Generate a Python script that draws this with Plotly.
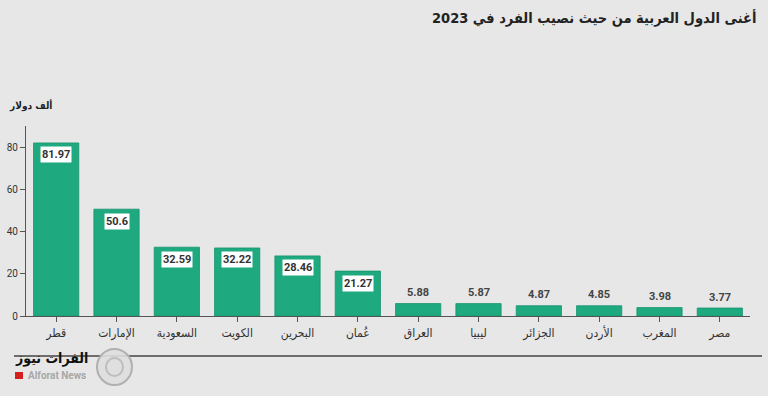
import plotly.graph_objects as go

countries = ["قطر", "الإمارات", "السعودية", "الكويت", "البحرين", "عُمان",
             "العراق", "ليبيا", "الجزائر", "الأردن", "المغرب", "مصر"]
values = [81.97, 50.6, 32.59, 32.22, 28.46, 21.27, 5.88, 5.87, 4.87, 4.85, 3.98, 3.77]
value_labels = ["81.97", "50.6", "32.59", "32.22", "28.46", "21.27",
                "5.88", "5.87", "4.87", "4.85", "3.98", "3.77"]
y_ticks = [0, 20, 40, 60, 80]

BG = "#e7e7e7"
BAR = "#1ea97f"
TXT = "#333333"
LAT = "Roboto, Liberation Sans, sans-serif"
AR = "DejaVu Sans Condensed, DejaVu Sans, sans-serif"

PW, PH = 724, 190  # plot area size in px

fig = go.Figure()
fig.add_trace(go.Bar(
    x=countries, y=values,
    marker=dict(color=BAR, line=dict(color="#17946f", width=0.8)),
    hoverinfo="skip",
))

annotations = []
for c, v, lab in zip(countries, values, value_labels):
    if v >= 10:
        annotations.append(dict(
            x=c, y=v, xref="x", yref="y", text="<b>%s</b>" % lab,
            showarrow=False, yshift=-12, yanchor="middle",
            font=dict(family=LAT, size=11, color=TXT),
            bgcolor="#ffffff", borderpad=1,
        ))
    else:
        annotations.append(dict(
            x=c, y=v, xref="x", yref="y", text="<b>%s</b>" % lab,
            showarrow=False, yshift=11, yanchor="middle",
            font=dict(family=LAT, size=11, color="#444444"),
        ))

# title
annotations.append(dict(
    xref="paper", yref="paper", x=1, y=1, xshift=8, yshift=108,
    xanchor="right", yanchor="middle",
    text="<b>أغنى الدول العربية من حيث نصيب الفرد في 2023</b>",
    showarrow=False, font=dict(family=AR, size=14.5, color="#222222"),
))
# unit label
annotations.append(dict(
    xref="paper", yref="paper", x=0, y=1, xshift=-19, yshift=21,
    xanchor="left", yanchor="middle",
    text="<b>ألف دولار</b>", showarrow=False,
    font=dict(family=AR, size=10, color="#222222"),
))
# logo texts
annotations.append(dict(
    xref="paper", yref="paper", x=0, y=0, xshift=-13, yshift=-42,
    xanchor="left", yanchor="middle",
    text="<b>الفرات نيوز</b>", showarrow=False,
    font=dict(family=AR, size=14, color="#111111"),
))
annotations.append(dict(
    xref="paper", yref="paper", x=0, y=0, xshift=0, yshift=-59,
    xanchor="left", yanchor="middle",
    text="<b>Alforat News</b>", showarrow=False,
    font=dict(family=LAT, size=10, color="#a8a8a8"),
))

shapes = [
    # bottom separator line
    dict(type="line", xref="paper", yref="paper", x0=-12 / PW, x1=736 / PW,
         y0=-40 / PH, y1=-40 / PH, line=dict(color="#444444", width=1.5)),
    # red square of logo
    dict(type="rect", xref="paper", yref="paper",
         x0=-11 / PW, x1=-3 / PW, y0=-63 / PH, y1=-56 / PH,
         fillcolor="#d42020", line=dict(width=0)),
    # logo circle
    dict(type="circle", xref="paper", yref="paper",
         x0=71 / PW, x1=106 / PW, y0=-69 / PH, y1=-33 / PH,
         fillcolor="rgba(222,222,222,0.9)", line=dict(color="#b0b0b0", width=2)),
    dict(type="circle", xref="paper", yref="paper",
         x0=80 / PW, x1=97 / PW, y0=-60 / PH, y1=-42 / PH,
         fillcolor="rgba(0,0,0,0)", line=dict(color="#bdbdbd", width=2)),
]

fig.update_layout(
    width=768, height=396,
    paper_bgcolor=BG, plot_bgcolor=BG,
    margin=dict(l=26, r=18, t=126, b=80, autoexpand=False),
    showlegend=False,
    bargap=0.25,
    annotations=annotations,
    shapes=shapes,
    xaxis=dict(
        automargin=False,
        showgrid=False, zeroline=False,
        showline=True, linecolor="#555555", linewidth=1.2,
        ticks="outside", ticklen=5, tickcolor="#555555",
        tickfont=dict(family=AR, size=12, color=TXT),
    ),
    yaxis=dict(
        automargin=False,
        range=[0, 90], tickvals=y_ticks,
        showgrid=False, zeroline=False,
        showline=True, linecolor="#555555", linewidth=1.2,
        ticks="outside", ticklen=5, tickcolor="#555555",
        tickfont=dict(family=LAT, size=10, color=TXT),
    ),
)

fig.write_html(
    "out.html",
    config={"displayModeBar": False},
    post_script="document.body.style.margin='0';document.body.style.overflow='hidden';",
)
